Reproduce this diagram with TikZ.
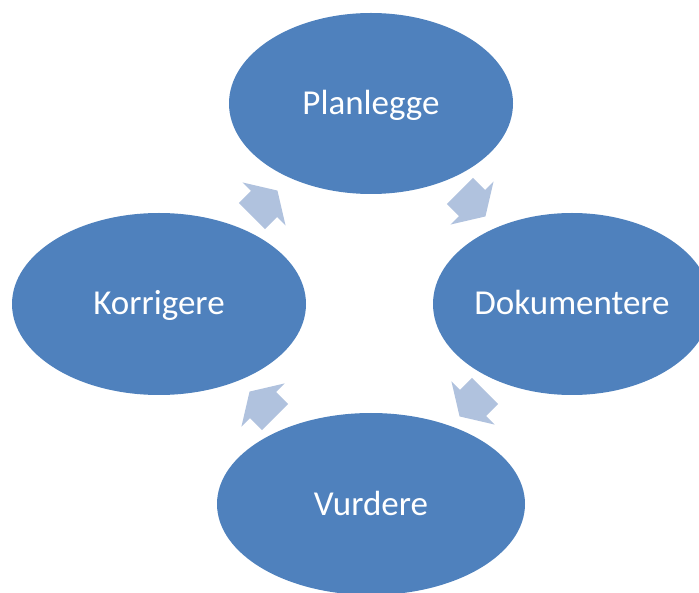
\documentclass[tikz,border=0pt]{standalone}
\usepackage{fontspec}
\setmainfont{Carlito}
\usetikzlibrary{shapes.geometric}
\definecolor{ellblue}{RGB}{79,129,189}
\definecolor{arrblue}{RGB}{176,194,222}
\tikzset{
  stage/.style={ellipse, fill=ellblue, draw=none, inner sep=0pt, text=white,
    font=\fontsize{35}{40}\selectfont, text height=22pt, text depth=0pt},
  cyclearrow/.style={fill=arrblue, draw=none}
}
\begin{document}
\begin{tikzpicture}[x=1pt,y=-1pt]
\path[use as bounding box, clip] (0,0) rectangle (699,593);
\node[stage, minimum width=284pt, minimum height=181pt] (plan) at (371,103.5) {Planlegge};
\node[stage, minimum width=278pt, minimum height=182pt] (dok) at (572,304) {Dokumentere};
\node[stage, minimum width=308pt, minimum height=182pt] (vur) at (371,504) {Vurdere};
\node[stage, minimum width=294pt, minimum height=182pt] (kor) at (159,304) {Korrigere};
\foreach \cx/\cy/\ang in {264/204/45, 472/203/-45, 473/403/-135, 263/405/135}{
  \fill[cyclearrow, shift={(\cx,\cy)}, rotate=\ang]
    (-17,-18.5) -- (0,-18.5) -- (0,-30.5) -- (19,0) -- (0,30.5) -- (0,18.5) -- (-17,18.5) -- cycle;
}
\end{tikzpicture}
\end{document}
